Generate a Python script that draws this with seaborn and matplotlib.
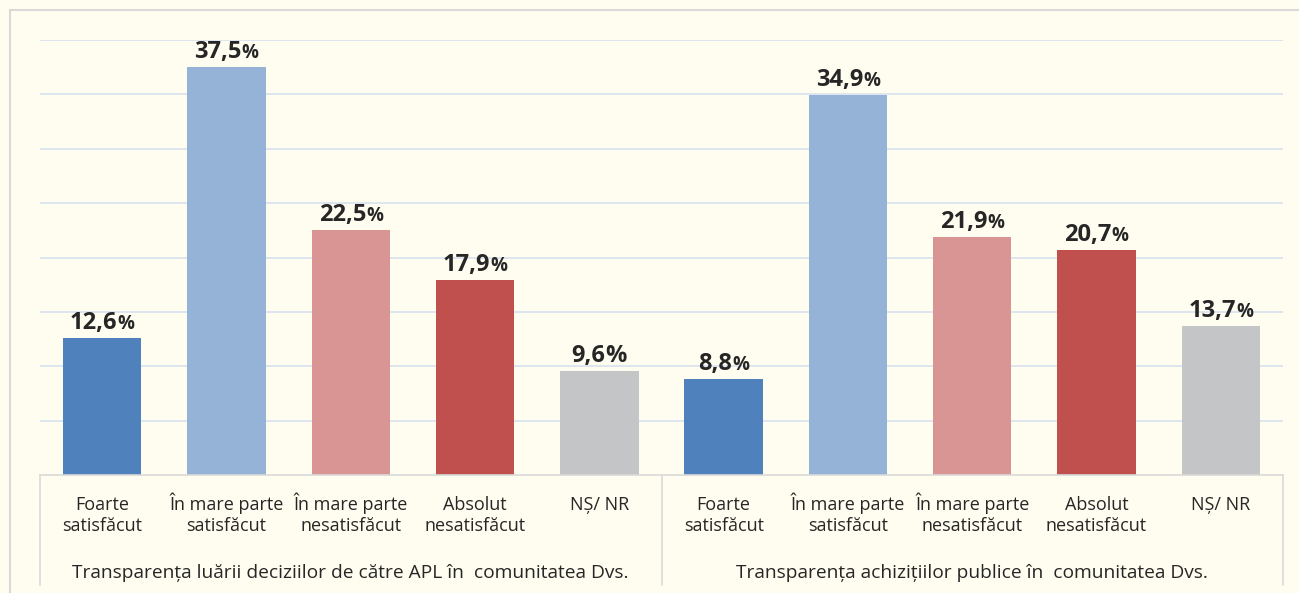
import numpy as np
import pandas as pd
import matplotlib
matplotlib.use("Agg")
import matplotlib.pyplot as plt
import seaborn as sns
from matplotlib.transforms import offset_copy, blended_transform_factory
from matplotlib.lines import Line2D

# dados
groups = ["Transparența luării deciziilor de către APL în  comunitatea Dvs.",
          "Transparența achizițiilor publice în  comunitatea Dvs."]
categories = ["Foarte\nsatisfăcut", "În mare parte\nsatisfăcut", "În mare parte\nnesatisfăcut",
              "Absolut\nnesatisfăcut", "NȘ/ NR"]
values_g1 = [12.6, 37.5, 22.5, 17.9, 9.6]
values_g2 = [8.8, 34.9, 21.9, 20.7, 13.7]
colors = ["#4F81BD", "#95B3D7", "#D99594", "#C0504D", "#C4C5C7"]

bg = "#FFFDEF"

rows = []
for gi, vals in enumerate([values_g1, values_g2]):
    for ci, v in enumerate(vals):
        rows.append({"key": f"{gi}-{ci}", "cat": categories[ci], "val": v, "color": colors[ci]})
df = pd.DataFrame(rows)

sns.set_style("white")
plt.rcParams['font.family'] = ['Open Sans', 'DejaVu Sans']

fig = plt.figure(figsize=(12.99, 5.93), dpi=100, facecolor=bg)
ax = fig.add_axes([40/1299, 1 - 475/593, 1243/1299, 435/593])
ax.set_facecolor(bg)

sns.barplot(data=df, x="key", y="val", hue="key", palette=dict(zip(df["key"], df["color"])),
            width=0.63, legend=False, ax=ax, saturation=1, linewidth=0)

ax.set_xlim(-0.5, 9.5)
ax.set_ylim(0, 40)
ax.set_yticks(np.arange(5, 45, 5))
ax.yaxis.grid(True, color="#DAE3F0", linewidth=1.3)
ax.set_axisbelow(True)
ax.set_yticklabels([])
ax.tick_params(axis="y", length=0)
for s in ["top", "right", "left"]:
    ax.spines[s].set_visible(False)
ax.spines["bottom"].set_color("#D9D9D9")
ax.spines["bottom"].set_linewidth(1.2)
ax.set_xlabel("")
ax.set_ylabel("")

# rotulos das categorias (linha a linha, alinhados pela baseline)
ax.set_xticks(range(10))
ax.set_xticklabels([])
ax.tick_params(axis="x", length=0)
trans = blended_transform_factory(ax.transData, ax.transAxes)
for i, cat in enumerate(df["cat"]):
    for li, line in enumerate(cat.split("\n")):
        ax.text(i, -0.0805 - li * 0.049, line, transform=trans, ha="center", va="baseline",
                fontsize=13, color="#262626")

for xs in [-0.5, 4.5, 9.5]:
    ax.add_line(Line2D([xs, xs], [0, -0.253], transform=trans, color="#D9D9D9",
                       linewidth=1.2, clip_on=False))
for gi, g in enumerate(groups):
    ax.text(gi * 5 + 2, -0.237, g, transform=trans, ha="center", va="baseline",
            fontsize=13.8, color="#262626")

# rotulos com % menor
pct_full = [False, False, False, False, True, False, False, False, False, False]
labels = []
for i, v in enumerate(df["val"]):
    num = f"{v:.1f}".replace(".", ",")
    t1 = ax.text(i, v, num, fontsize=17, fontweight="bold", color="#262626", ha="left", va="baseline")
    t2 = ax.text(i, v, "%", fontsize=17 if pct_full[i] else 13.5, fontweight="bold",
                 color="#262626", ha="left", va="baseline")
    labels.append((i, v, t1, t2))

fig.canvas.draw()
r = fig.canvas.get_renderer()
for i, v, t1, t2 in labels:
    w1 = t1.get_window_extent(r).width
    w2 = t2.get_window_extent(r).width
    tot = w1 + w2
    t1.set_transform(offset_copy(ax.transData, fig, x=-tot/2, y=9, units="dots"))
    t2.set_transform(offset_copy(ax.transData, fig, x=-tot/2 + w1, y=9, units="dots"))

# borda externa
fig.add_artist(Line2D([10/1299, 10/1299], [0, 1 - 10/593], transform=fig.transFigure,
                      color="#D9D9D9", linewidth=1.5))
fig.add_artist(Line2D([10/1299, 1], [1 - 10/593, 1 - 10/593], transform=fig.transFigure,
                      color="#D9D9D9", linewidth=1.5))

fig.savefig("out.png", dpi=100, facecolor=bg)
